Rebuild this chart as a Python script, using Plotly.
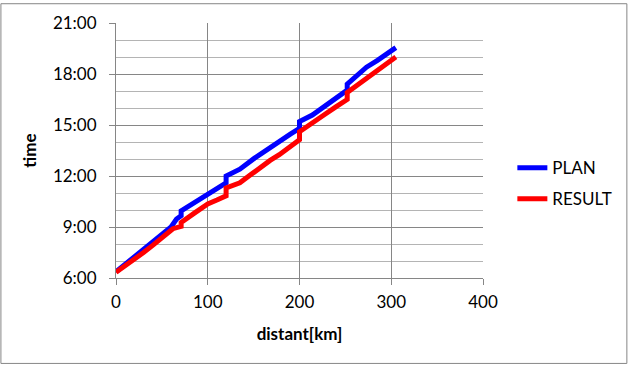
import plotly.graph_objects as go

# PLAN series: distance [km] and clock time
plan_km = [0, 10, 20, 30, 40, 48, 60, 66, 71, 71, 80, 90, 100, 110, 120, 120,
           135, 151, 165, 178, 190, 200, 200, 214, 227, 240, 252, 252, 262, 273,
           285, 295, 305]
plan_time = ["6:22", "6:48", "7:12", "7:40", "8:05", "8:30", "9:00", "9:28", "9:40",
             "9:57", "10:15", "10:35", "10:55", "11:15", "11:36", "12:00", "12:24",
             "13:03", "13:35", "14:00", "14:28", "14:48", "15:12", "15:35", "16:04",
             "16:35", "17:03", "17:24", "17:50", "18:24", "18:48", "19:10", "19:33"]

# RESULT series
result_km = [0, 10, 20, 30, 40, 50, 62, 71, 71, 85, 100, 110, 120, 120, 135, 147,
             158, 168, 178, 190, 200, 200, 214, 227, 240, 252, 252, 265, 280, 293, 305]
result_time = ["6:20", "6:42", "7:05", "7:30", "7:55", "8:20", "8:54", "9:02", "9:16",
               "9:48", "10:21", "10:35", "10:50", "11:18", "11:36", "12:05", "12:32",
               "12:55", "13:15", "13:42", "14:08", "14:36", "15:05", "15:36", "16:05",
               "16:30", "16:55", "17:25", "17:58", "18:30", "19:00"]

y_ticks = [6, 9, 12, 15, 18, 21]
y_tick_labels = ["6:00", "9:00", "12:00", "15:00", "18:00", "21:00"]
x_ticks = [0, 100, 200, 300, 400]


def to_hours(t):
    h, m = t.split(":")
    return int(h) + int(m) / 60.0


FONT = "Lato"
fig = go.Figure()
fig.add_trace(go.Scatter(x=plan_km, y=[to_hours(t) for t in plan_time], mode="lines",
                         name="PLAN", line=dict(color="#0000FF", width=5),
                         legendgroup="a"))
fig.add_trace(go.Scatter(x=result_km, y=[to_hours(t) for t in result_time], mode="lines",
                         name="RESULT", line=dict(color="#FF0000", width=5),
                         legendgroup="b"))

fig.update_layout(
    width=629, height=365,
    margin=dict(l=116, r=145, t=20, b=87),
    paper_bgcolor="white", plot_bgcolor="white",
    font=dict(family=FONT, size=17, color="black"),
    showlegend=True,
    legend=dict(x=1.08, y=0.37, yanchor="middle", xanchor="left",
                font=dict(family=FONT, size=17), traceorder="grouped",
                tracegroupgap=6, itemwidth=30, bgcolor="rgba(0,0,0,0)"),
    xaxis=dict(range=[0, 400], tickvals=x_ticks, showgrid=True, gridcolor="#868686",
               gridwidth=1, zeroline=False, showline=True, linecolor="#868686",
               ticks="outside", ticklen=6, tickcolor="#868686", ticklabelstandoff=3,
               title=dict(text="<b>distant[km]</b>", standoff=16,
                          font=dict(family=FONT, size=17)),
               tickfont=dict(family=FONT, size=17)),
    yaxis=dict(range=[6, 21], tickvals=y_ticks, ticktext=y_tick_labels, showgrid=True,
               gridcolor="#868686", gridwidth=1, zeroline=False, showline=True,
               linecolor="#868686", ticks="outside", ticklen=6, tickcolor="#868686",
               ticklabelstandoff=9,
               minor=dict(dtick=1, tick0=6, showgrid=True, gridcolor="#B4B4B4", ticks=""),
               title=dict(text="<b>time</b>", standoff=11,
                          font=dict(family=FONT, size=17)),
               tickfont=dict(family=FONT, size=17)),
    shapes=[dict(type="rect", xref="paper", yref="paper", x0=-0.3136, x1=1.392,
                 y0=-0.335, y1=1.0756, line=dict(color="#868686", width=1))],
)

fig.write_html("out.html")
